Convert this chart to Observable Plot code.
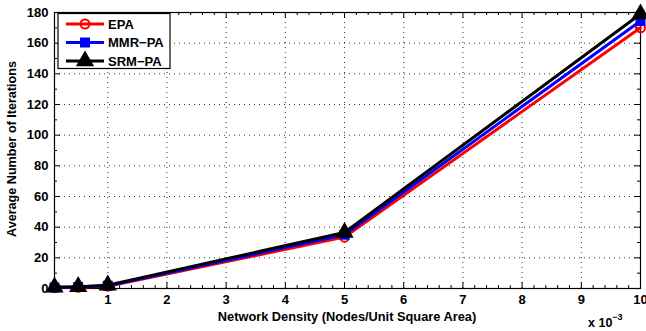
<!DOCTYPE html>
<html><head><meta charset="utf-8">
<script src="https://cdn.jsdelivr.net/npm/d3@7"></script>
<script src="https://cdn.jsdelivr.net/npm/@observablehq/plot@0.6"></script>
<style>body{margin:0;background:#fff;} svg{display:block;}</style>
</head><body><div id="chart"></div>
<script>
const density = [0.1, 0.5, 1, 5, 10];
const epa = [0.5, 0.8, 1.5, 33.5, 170];
const mmrpa = [0.7, 1.0, 1.8, 35, 174.5];
const srmpa = [0.9, 1.2, 2.2, 36.5, 179];
const xTicks = [1,2,3,4,5,6,7,8,9,10];
const yTicks = [0,20,40,60,80,100,120,140,160,180];
const xMinor = d3.range(2, 100, 2).map(d => d / 10).filter(d => d % 1 !== 0);
const yMinor = d3.range(10, 180, 20);

const W = 646, H = 331, mt = 12, mb = 43, ml = 54, mr = 6;
const ph = H - mt - mb, pw = W - ml - mr;
const font = "'Liberation Sans', Arial, sans-serif";

const series = [
  {name: "EPA", vals: epa, color: "#ff0000", symbol: "circle", fill: "none"},
  {name: "MMR\u2212PA", vals: mmrpa, color: "#0000ff", symbol: "square", fill: "#0000ff"},
  {name: "SRM\u2212PA", vals: srmpa, color: "#000000", symbol: "triangle", fill: "#000000"}
];
const rows = series.flatMap(s => density.map((x, i) => ({x, y: s.vals[i], s: s.name})));

const marks = [
  Plot.ruleX(xTicks.filter(d => d < 10), {x: d => d, stroke: "#000", strokeDasharray: "1,4", strokeOpacity: 0.8}),
  Plot.ruleY(yTicks.filter(d => d > 0 && d < 180), {y: d => d, stroke: "#000", strokeDasharray: "1,4", strokeOpacity: 0.8}),
  // inward ticks bottom/top
  Plot.ruleX(xTicks, {x: d => d, insetTop: ph - 6, stroke: "#000"}),
  Plot.ruleX(xTicks, {x: d => d, insetBottom: ph - 6, stroke: "#000"}),
  Plot.ruleX(xMinor, {x: d => d, insetTop: ph - 3, stroke: "#000"}),
  Plot.ruleX(xMinor, {x: d => d, insetBottom: ph - 3, stroke: "#000"}),
  Plot.ruleY(yTicks, {y: d => d, insetRight: pw - 6, stroke: "#000"}),
  Plot.ruleY(yTicks, {y: d => d, insetLeft: pw - 6, stroke: "#000"}),
  Plot.ruleY(yMinor, {y: d => d, insetRight: pw - 3, stroke: "#000"}),
  Plot.ruleY(yMinor, {y: d => d, insetLeft: pw - 3, stroke: "#000"}),
  Plot.frame({stroke: "#000", strokeWidth: 1.2}),
];
for (const s of series) {
  const d = rows.filter(r => r.s === s.name);
  marks.push(Plot.line(d, {x: "x", y: "y", stroke: s.color, strokeWidth: 3}));
  marks.push(Plot.dot(d, {x: "x", y: "y", symbol: s.symbol, r: s.symbol === "triangle" ? 5.5 : 4.5,
    stroke: s.color, strokeWidth: 2, fill: s.fill}));
}
marks.push(Plot.axisX(xTicks, {tickSize: 0, tickPadding: 6, fontSize: 13, fontWeight: "bold", label: null}));
marks.push(Plot.axisY(yTicks, {tickSize: 0, tickPadding: 6, fontSize: 13, fontWeight: "bold", label: null}));

const chart = Plot.plot({
  width: W, height: H, marginTop: mt, marginBottom: mb, marginLeft: ml, marginRight: mr,
  style: {fontFamily: font, color: "#000", background: "#fff"},
  x: {type: "linear", domain: [0.1, 10]},
  y: {domain: [0, 180]},
  marks
});
document.getElementById("chart").append(chart);

const svg = d3.select(chart);
const g = svg.append("g").attr("font-family", font).attr("font-weight", "bold").attr("fill", "#000");
g.append("text").attr("x", ml + pw / 2).attr("y", H - 10).attr("text-anchor", "middle")
  .attr("font-size", 12.8).text("Network Density (Nodes/Unit Square Area)");
g.append("text").attr("transform", `translate(16,${mt + ph / 2 - 1}) rotate(-90)`).attr("text-anchor", "middle")
  .attr("font-size", 12.6).text("Average Number of Iterations");
const ex = g.append("text").attr("x", 588).attr("y", H - 4).attr("font-size", 12.5).attr("text-anchor", "start");
ex.append("tspan").text("x 10");
ex.append("tspan").attr("dy", -7).attr("font-size", 9).text("\u22123");

// legend
const lg = svg.append("g").attr("font-family", font).attr("font-weight", "bold").attr("text-anchor", "start");
lg.append("rect").attr("x", 58).attr("y", 13.5).attr("width", 112).attr("height", 55)
  .attr("fill", "#fff").attr("stroke", "#000").attr("stroke-width", 1.2);
series.forEach((s, i) => {
  const y = 24 + i * 18.5;
  lg.append("line").attr("x1", 66).attr("x2", 104).attr("y1", y).attr("y2", y)
    .attr("stroke", s.color).attr("stroke-width", 3);
  const sym = d3.symbol(s.symbol === "circle" ? d3.symbolCircle : s.symbol === "square" ? d3.symbolSquare : d3.symbolTriangle,
    s.symbol === "triangle" ? 95 : 64)();
  lg.append("path").attr("d", sym).attr("transform", `translate(85,${y})`)
    .attr("fill", s.fill).attr("stroke", s.color).attr("stroke-width", 2);
  lg.append("text").attr("x", 108).attr("y", y + 4.5).attr("font-size", 13).attr("fill", "#000")
    .attr("text-anchor", "start").text(s.name);
});
</script></body></html>
